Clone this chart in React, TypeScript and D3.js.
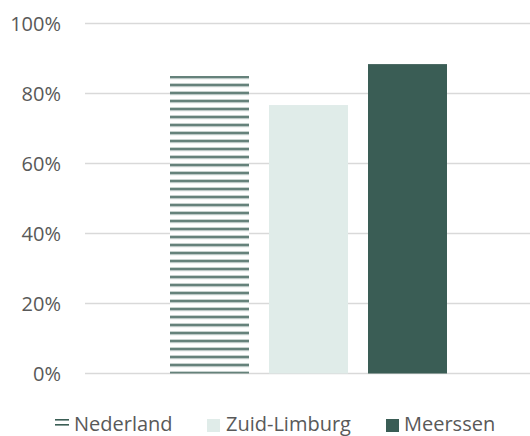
import React from "react";
import * as d3 from "d3";

const series = ["Nederland", "Zuid-Limburg", "Meerssen"];
const values = [0.85, 0.767, 0.884];
const yTicks = [0, 0.2, 0.4, 0.6, 0.8, 1.0];
const colors = ["#3b5e55", "#e0ece9", "#3a5d55"];

const W = 530;
const H = 436;
const plot = { left: 85, right: 530, top: 23.5, bottom: 373.5 };
const FONT = "'Open Sans', sans-serif";
const TXT = "#595959";

export default function App() {
  const y = d3.scaleLinear().domain([0, 1]).range([plot.bottom, plot.top]);
  const x = d3
    .scaleBand<string>()
    .domain(series)
    .range([170, 447])
    .paddingInner(20 / 99)
    .paddingOuter(0);
  const fmt = d3.format(".0%");

  const legendItems = [
    { name: series[0], mx: 55, tx: 74 },
    { name: series[1], mx: 207, tx: 226 },
    { name: series[2], mx: 386, tx: 404 },
  ];

  return (
    <div style={{ position: "fixed", left: 0, top: 0, width: W, height: H, background: "#fff" }}>
      <svg width={W} height={H} style={{ display: "block" }}>
        <defs>
          <pattern id="stripes" patternUnits="userSpaceOnUse" x={0} y={75.5} width={8} height={8}>
            <rect x={0} y={0} width={8} height={8} fill="#ffffff" />
            <rect x={0} y={0} width={8} height={0.8} fill="#8ea59f" />
            <rect x={0} y={0.8} width={8} height={1.6} fill="#3b5e55" />
            <rect x={0} y={2.4} width={8} height={0.8} fill="#7f9891" />
          </pattern>
        </defs>
        {yTicks.map((t) => (
          <g key={t}>
            <line
              x1={plot.left}
              x2={plot.right}
              y1={y(t)}
              y2={y(t)}
              stroke="#d9d9d9"
              strokeWidth={1.5}
            />
            <text
              x={61}
              y={y(t)}
              dy="0.36em"
              textAnchor="end"
              fontFamily={FONT}
              fontSize={20}
              fill={TXT}
            >
              {fmt(t)}
            </text>
          </g>
        ))}
        {series.map((s, i) => (
          <rect
            key={s}
            x={x(s)}
            y={y(values[i])}
            width={x.bandwidth()}
            height={y(0) - y(values[i])}
            fill={i === 0 ? "url(#stripes)" : colors[i]}
          />
        ))}
        {legendItems.map((l, i) => (
          <g key={l.name}>
            {i === 0 ? (
              <g>
                <rect x={l.mx} y={419} width={14} height={1.6} fill="#3b5e55" />
                <rect x={l.mx} y={424} width={14} height={1.6} fill="#3b5e55" />
              </g>
            ) : (
              <rect x={l.mx} y={419} width={13} height={13} fill={colors[i]} />
            )}
            <text x={l.tx} y={431} fontFamily={FONT} fontSize={20} fill={TXT}>
              {l.name}
            </text>
          </g>
        ))}
      </svg>
    </div>
  );
}
